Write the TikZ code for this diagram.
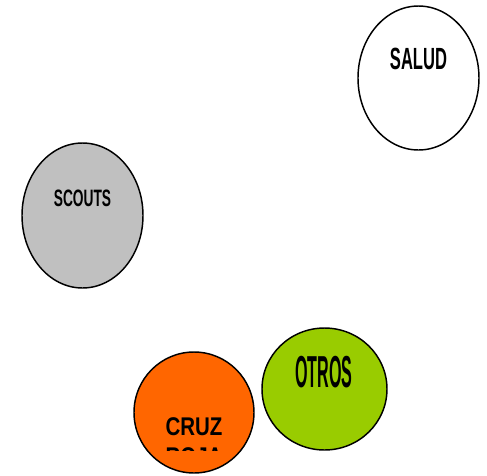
\documentclass[tikz,border=0pt]{standalone}
\usepackage{fontspec}
\setmainfont{Liberation Sans}
\usetikzlibrary{shapes.geometric}
\definecolor{cruzorange}{HTML}{FF6600}
\definecolor{otrosgreen}{HTML}{99CC00}
\definecolor{scoutgray}{HTML}{C0C0C0}
\tikzset{
  blob/.style={draw=black, line width=1.1pt},
  lbl/.style={inner sep=0pt, font=\bfseries, anchor=base}
}
\begin{document}
\begin{tikzpicture}[x=0.75pt, y=-0.75pt]
\useasboundingbox (0,0) rectangle (487,476);
% ellipses
\draw[blob, fill=white] (418.5,78) ellipse [x radius=60.5, y radius=72];
\draw[blob, fill=scoutgray] (82.5,215.5) ellipse [x radius=60.5, y radius=72.5];
\draw[blob, fill=otrosgreen] (324.5,389) ellipse [x radius=62.5, y radius=61];
\draw[blob, fill=cruzorange] (194,412.5) ellipse [x radius=60, y radius=60.5];
% labels
\node[lbl] (salud) at (418.5,69) {\fontsize{23}{27}\selectfont\scalebox{0.54}[1]{SALUD}};
\node[lbl] (scouts) at (82.5,206) {\fontsize{17.8}{21}\selectfont\scalebox{0.58}[1]{SCOUTS}};
\node[lbl] (otros) at (324,387) {\fontsize{33.6}{40}\selectfont\scalebox{0.36}[1]{OTROS}};
\node[lbl] (cruz) at (194,435) {\fontsize{19.2}{23}\selectfont\scalebox{0.8}[1]{CRUZ}};
\begin{scope}
  \clip (150,446) rectangle (240,450.5);
  \node[lbl] (roja) at (194,465) {\fontsize{19.2}{23}\selectfont\scalebox{0.8}[1]{ROJA}};
\end{scope}
\end{tikzpicture}
\end{document}
